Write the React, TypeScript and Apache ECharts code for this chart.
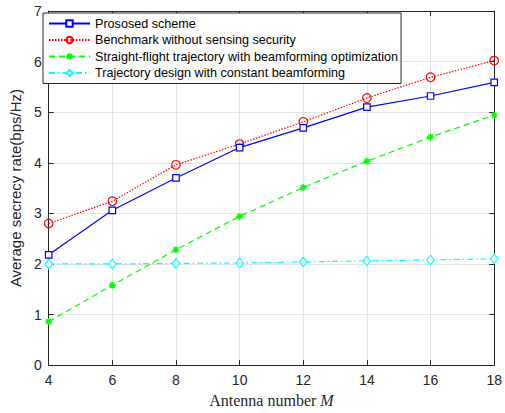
import React, { useEffect, useRef } from "react";
import * as echarts from "echarts";

const antennas = [4, 6, 8, 10, 12, 14, 16, 18];
const proposed = [2.18, 3.06, 3.7, 4.3, 4.69, 5.1, 5.32, 5.59];
const benchmark = [2.8, 3.24, 3.96, 4.37, 4.81, 5.28, 5.69, 6.02];
const straightFlight = [0.86, 1.58, 2.28, 2.94, 3.51, 4.03, 4.51, 4.94];
const constantBf = [2.0, 2.0, 2.01, 2.02, 2.04, 2.06, 2.08, 2.1];
const seriesNames = [
  "Prososed scheme",
  "Benchmark without sensing security",
  "Straight-flight trajectory with beamforming optimization",
  "Trajectory design with constant beamforming",
];

const asterisk =
  "path://M5,0L5,10M0,5L10,5M1.5,1.5L8.5,8.5M1.5,8.5L8.5,1.5";

export default function App() {
  const ref = useRef<HTMLDivElement>(null);
  useEffect(() => {
    if (!ref.current) return;
    const chart = echarts.init(ref.current, undefined, { renderer: "svg" });
    const pts = (ys: number[]) => antennas.map((x, i) => [x, ys[i]]);
    const axisCommon = {
      axisLine: { show: true, onZero: false, lineStyle: { color: "#262626", width: 1 } },
      axisTick: { show: true, inside: true, length: 5, lineStyle: { color: "#262626" } },
    };
    const tickFont = { color: "#262626", fontSize: 14, fontFamily: "Liberation Sans, Arial" };
    chart.setOption({
      animation: false,
      backgroundColor: "#fff",
      grid: { left: 40, right: 8, top: 11, bottom: 43, containLabel: false },
      xAxis: [
        {
          type: "value",
          min: 4,
          max: 18,
          interval: 2,
          ...axisCommon,
          axisLabel: { ...tickFont, margin: 8 },
          splitLine: { show: true, lineStyle: { color: "#e3e3e3" } },
          name: "{n|Antenna number }{m|M}",
          nameLocation: "middle",
          nameGap: 25,
          nameTextStyle: {
            rich: {
              n: { fontFamily: "Liberation Serif, Times New Roman", fontSize: 16, color: "#262626" },
              m: { fontFamily: "Liberation Serif, Times New Roman", fontSize: 16, fontStyle: "italic", color: "#262626" },
            },
          },
        },
        {
          type: "value",
          position: "top",
          min: 4,
          max: 18,
          interval: 2,
          ...axisCommon,
          axisLabel: { show: false },
          splitLine: { show: false },
        },
      ],
      yAxis: [
        {
          type: "value",
          min: 0,
          max: 7,
          interval: 1,
          ...axisCommon,
          axisLabel: { ...tickFont, margin: 7 },
          splitLine: { show: true, lineStyle: { color: "#e3e3e3" } },
          name: "Average secrecy rate(bps/Hz)",
          nameLocation: "middle",
          nameGap: 19,
          nameTextStyle: { fontFamily: "Liberation Sans, Arial", fontSize: 15, color: "#262626" },
        },
        {
          type: "value",
          position: "right",
          min: 0,
          max: 7,
          interval: 1,
          ...axisCommon,
          axisLabel: { show: false },
          splitLine: { show: false },
        },
      ],
      legend: {
        orient: "vertical",
        left: 43,
        top: 13,
        padding: [3, 3, 3, 5],
        itemGap: 1.5,
        itemWidth: 41,
        itemHeight: 8,
        backgroundColor: "#fff",
        borderColor: "#262626",
        borderWidth: 1,
        borderRadius: 0,
        textStyle: { fontFamily: "Liberation Sans, Arial", fontSize: 12.6, lineHeight: 15, color: "#000" },
        data: seriesNames,
      },
      series: [
        {
          name: seriesNames[0],
          type: "line",
          data: pts(proposed),
          symbol: "rect",
          symbolSize: 6.5,
          lineStyle: { color: "#0000ff", width: 1.2, type: "solid" },
          itemStyle: { color: "#fff", borderColor: "#0000ff", borderWidth: 1.2 },
          z: 5,
        },
        {
          name: seriesNames[1],
          type: "line",
          data: pts(benchmark),
          symbol: "circle",
          symbolSize: 8.5,
          lineStyle: { color: "#ff0000", width: 1.2, type: [1.5, 1.5] },
          itemStyle: { color: "transparent", borderColor: "#ff0000", borderWidth: 1.2 },
          z: 4,
        },
        {
          name: seriesNames[2],
          type: "line",
          data: pts(straightFlight),
          symbol: asterisk,
          symbolSize: 7,
          lineStyle: { color: "#00ff00", width: 1.2, type: [6, 4] },
          itemStyle: { color: "#00ff00", borderColor: "#00ff00", borderWidth: 1.5 },
          z: 3,
        },
        {
          name: seriesNames[3],
          type: "line",
          data: pts(constantBf),
          symbol: "diamond",
          symbolSize: [7.5, 9.5],
          lineStyle: { color: "#00ffff", width: 1.2, type: [6, 3, 1.5, 3] },
          itemStyle: { color: "#fff", borderColor: "#00ffff", borderWidth: 1.2 },
          z: 2,
        },
      ],
    });
    return () => chart.dispose();
  }, []);
  return (
    <div
      ref={ref}
      style={{ position: "fixed", left: 0, top: 0, width: 505, height: 413 }}
    />
  );
}
